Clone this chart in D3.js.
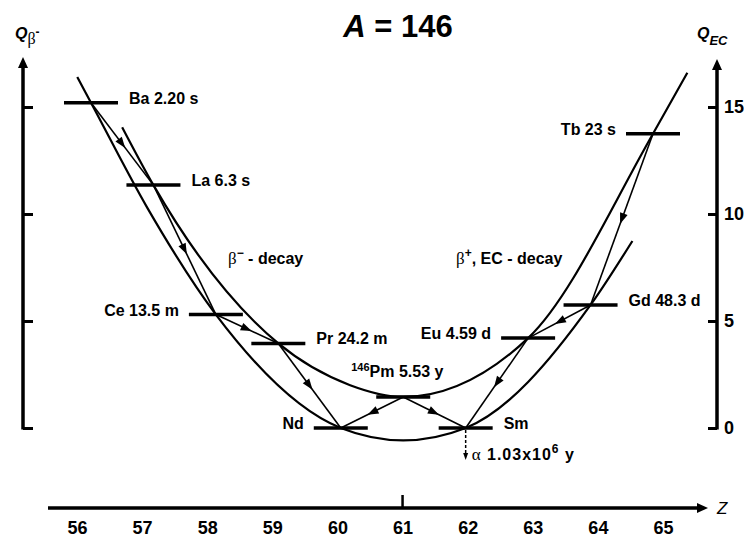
<!DOCTYPE html>
<html>
<head>
<meta charset="utf-8">
<script src="https://cdn.jsdelivr.net/npm/d3@7"></script>
<style>
    body { margin: 0; background: #fff; }
    svg text { font-family: 'Liberation Sans', Arial, sans-serif; font-weight: bold; fill: #000; }
    svg .greek { font-family: 'Liberation Serif', 'Times New Roman', serif; font-weight: normal; }
</style>
</head>
<body>
<div id="chart"></div>
<script>
/* * * * * * * * * * * * * *
 *   A = 146 mass parabola  *
 * * * * * * * * * * * * * */

// isobar levels
const nuclides = ['Ba', 'La', 'Ce', 'Pr', 'Nd', 'Pm', 'Sm', 'Eu', 'Gd', 'Tb'];
const levelZ = [56, 57, 58, 59, 60, 61, 62, 63, 64, 65];
const levelQ = [15.2, 11.35, 5.3, 3.95, 0, 1.45, 0, 4.2, 5.75, 13.75];
const halfLives = ['2.20 s', '6.3 s', '13.5 m', '24.2 m', '', '5.53 y', '', '4.59 d', '48.3 d', '23 s'];

// the two parabolas (even-even lower, odd-odd upper)
const evenZ = [55.78, 56, 56.9, 58, 60, 61, 62, 64, 64.67];
const evenQ = [16.4, 15.2, 10.3, 5.3, 0, -0.58, 0, 5.75, 8.74];
const oddZ = [56.5, 57, 59, 60.15, 61, 63, 65, 65.55];
const oddQ = [14.05, 11.35, 3.95, 2.0, 1.45, 4.2, 13.75, 16.6];

// decay chain
const decayFrom = ['Ba', 'La', 'Ce', 'Pr', 'Pm', 'Pm', 'Tb', 'Gd', 'Eu'];
const decayTo = ['La', 'Ce', 'Pr', 'Nd', 'Nd', 'Sm', 'Gd', 'Eu', 'Sm'];

// axes
const zTicks = [56, 57, 58, 59, 60, 61, 62, 63, 64, 65];
const qTicks = [0, 5, 10, 15];

class ParabolaVis {
    constructor(parentElement) {
        this.parentElement = parentElement;
        this.initVis();
    }

    initVis() {
        let vis = this;

        vis.width = 744;
        vis.height = 538;

        vis.svg = d3
            .select('#' + vis.parentElement)
            .append('svg')
            .attr('width', vis.width)
            .attr('height', vis.height);

        // level positions and axis label positions do not line up exactly in the original
        vis.x = d3.scaleLinear().domain([56, 65]).range([91, 653]);
        vis.xAxisScale = d3.scaleLinear().domain([56, 65]).range([77, 663]);
        vis.y = d3.scaleLinear().domain([0, 15]).range([428, 107]);

        vis.levels = nuclides.map((n, i) => ({ name: n, z: levelZ[i], q: levelQ[i], t: halfLives[i] }));

        vis.drawAxes();
        vis.drawCurves();
        vis.drawLevels();
        vis.drawDecays();
    }

    arrowHead(g, x, y, angle, len, wid) {
        // triangle with its tip at (x, y), pointing along angle
        let pts = [
            [0, 0],
            [-len, -wid / 2],
            [-len, wid / 2],
        ].map((p) => [
            x + p[0] * Math.cos(angle) - p[1] * Math.sin(angle),
            y + p[0] * Math.sin(angle) + p[1] * Math.cos(angle),
        ]);
        g.append('path').attr('d', 'M' + pts.join('L') + 'Z').attr('fill', '#000');
    }

    drawAxes() {
        let vis = this;
        let g = vis.svg.append('g');

        // title
        let title = g.append('text').attr('x', 398).attr('y', 37).attr('text-anchor', 'middle').style('font-size', '31px');
        title.append('tspan').style('font-style', 'italic').text('A');
        title.append('tspan').text(' = 146');

        // left axis (Q beta-)
        let left = g.append('g').attr('transform', 'translate(23,0)')
            .call(d3.axisRight(vis.y).tickValues(qTicks).tickSize(10).tickSizeOuter(0).tickFormat(''));
        left.select('.domain').remove();
        left.selectAll('.tick line').attr('stroke', '#000').attr('stroke-width', 3);
        g.append('line').attr('x1', 23).attr('x2', 23).attr('y1', vis.y(0) + 1.5).attr('y2', 66)
            .attr('stroke', '#000').attr('stroke-width', 3.5);
        vis.arrowHead(g, 23, 57, -Math.PI / 2, 11, 10);

        let ql = g.append('text').attr('x', 15).attr('y', 39).style('font-size', '16px');
        ql.append('tspan').style('font-style', 'italic').text('Q');
        ql.append('tspan').attr('class', 'greek').attr('dy', 5).style('font-size', '16px').text('β');
        ql.append('tspan').attr('dy', -8).style('font-size', '12px').text('-');

        // right axis (Q EC)
        let right = g.append('g').attr('transform', 'translate(717,0)')
            .call(d3.axisLeft(vis.y).tickValues(qTicks).tickSize(9).tickSizeOuter(0));
        right.select('.domain').remove();
        right.selectAll('.tick line').attr('stroke', '#000').attr('stroke-width', 3);
        right.selectAll('.tick text')
            .attr('x', 7)
            .attr('text-anchor', 'start')
            .style('font-size', '18px')
            .style('font-family', null);
        g.append('line').attr('x1', 717).attr('x2', 717).attr('y1', vis.y(0) + 1.5).attr('y2', 68)
            .attr('stroke', '#000').attr('stroke-width', 3.5);
        vis.arrowHead(g, 717, 59, -Math.PI / 2, 11, 10);

        let qr = g.append('text').attr('x', 697).attr('y', 39).style('font-size', '16px').style('font-style', 'italic');
        qr.append('tspan').text('Q');
        qr.append('tspan').attr('dy', 6).style('font-size', '13px').text('EC');

        // Z axis
        let bottom = g.append('g').attr('transform', 'translate(0,508)')
            .call(d3.axisBottom(vis.xAxisScale).tickValues(zTicks).tickSize(0).tickFormat(d3.format('d')));
        bottom.select('.domain').remove();
        bottom.selectAll('.tick text').attr('y', 13).style('font-size', '18px').style('font-family', null);
        g.append('line').attr('x1', 48).attr('x2', 698).attr('y1', 508).attr('y2', 508)
            .attr('stroke', '#000').attr('stroke-width', 3.5);
        vis.arrowHead(g, 708, 508, 0, 11, 10);
        g.append('line').attr('x1', vis.xAxisScale(61)).attr('x2', vis.xAxisScale(61)).attr('y1', 495).attr('y2', 508)
            .attr('stroke', '#000').attr('stroke-width', 2.5);
        g.append('text').attr('x', 717).attr('y', 514).style('font-size', '17px')
            .style('font-style', 'italic').style('font-weight', 'normal').text('Z');
    }

    drawCurves() {
        let vis = this;

        let line = d3
            .line()
            .x((d) => vis.x(d[0]))
            .y((d) => vis.y(d[1]))
            .curve(d3.curveMonotoneX);

        let curves = [d3.zip(evenZ, evenQ), d3.zip(oddZ, oddQ)];

        vis.svg
            .append('g')
            .selectAll('.parabola')
            .data(curves)
            .enter()
            .append('path')
            .attr('class', 'parabola')
            .attr('d', line)
            .attr('fill', 'none')
            .attr('stroke', '#000')
            .attr('stroke-width', 2.2);

        // decay mode labels
        let bm = vis.svg.append('text').attr('x', 228).attr('y', 264).style('font-size', '16px');
        bm.append('tspan').attr('class', 'greek').style('font-size', '17px').text('β');
        bm.append('tspan').attr('dy', -7).style('font-size', '12px').text('−');
        bm.append('tspan').attr('dy', 7).text(' - decay');

        let bp = vis.svg.append('text').attr('x', 456).attr('y', 264).style('font-size', '16px');
        bp.append('tspan').attr('class', 'greek').style('font-size', '17px').text('β');
        bp.append('tspan').attr('dy', -7).style('font-size', '12px').text('+');
        bp.append('tspan').attr('dy', 7).text(', EC - decay');
    }

    drawLevels() {
        let vis = this;
        let g = vis.svg.append('g');

        g.selectAll('.level')
            .data(vis.levels)
            .enter()
            .append('line')
            .attr('class', 'level')
            .attr('x1', (d) => vis.x(d.z) - 27)
            .attr('x2', (d) => vis.x(d.z) + 27)
            .attr('y1', (d) => vis.y(d.q))
            .attr('y2', (d) => vis.y(d.q))
            .attr('stroke', '#000')
            .attr('stroke-width', 3.5);

        let labels = g
            .selectAll('.levelName')
            .data(vis.levels)
            .enter()
            .append('text')
            .attr('class', 'levelName')
            .style('font-size', '16px')
            .attr('y', (d) => (d.name === 'Pm' ? vis.y(d.q) - 20 : vis.y(d.q) + 1))
            .attr('x', (d) => {
                // labels sit left or right of the bar, Pm above it
                switch (d.name) {
                    case 'Ce':
                    case 'Nd':
                    case 'Eu':
                    case 'Tb':
                        return vis.x(d.z) - 37;
                    case 'Pm':
                        return vis.x(d.z) - 52;
                    default:
                        return vis.x(d.z) + 38;
                }
            })
            .attr('text-anchor', (d) => (['Ce', 'Nd', 'Eu', 'Tb'].includes(d.name) ? 'end' : 'start'));

        labels
            .filter((d) => d.name === 'Pm')
            .append('tspan')
            .attr('dy', -6)
            .style('font-size', '11px')
            .text('146');
        labels
            .append('tspan')
            .attr('dy', (d) => (d.name === 'Pm' ? 6 : 0))
            .text((d) => (d.t ? d.name + ' ' + d.t : d.name));

        // alpha branch of 146Sm
        let sx = vis.x(62);
        let sy = vis.y(0);
        g.append('line').attr('x1', sx).attr('x2', sx).attr('y1', sy + 2).attr('y2', sy + 25)
            .attr('stroke', '#000').attr('stroke-width', 1.5).attr('stroke-dasharray', '3,2');
        vis.arrowHead(g, sx, sy + 32, Math.PI / 2, 7, 5);
        let al = g.append('text').attr('x', sx + 6).attr('y', sy + 32).style('font-size', '16px')
            .style('letter-spacing', '1px');
        al.append('tspan').attr('class', 'greek').style('font-size', '17px').text('α');
        al.append('tspan').text(' 1.03x10');
        al.append('tspan').attr('dy', -7).style('font-size', '12px').text('6');
        al.append('tspan').attr('dy', 7).text(' y');
    }

    drawDecays() {
        let vis = this;
        let g = vis.svg.append('g');
        let byName = {};
        vis.levels.forEach((d) => (byName[d.name] = d));

        decayFrom.forEach((f, i) => {
            let a = byName[f];
            let b = byName[decayTo[i]];
            let x0 = vis.x(a.z), y0 = vis.y(a.q);
            let x1 = vis.x(b.z), y1 = vis.y(b.q);

            g.append('line').attr('x1', x0).attr('y1', y0).attr('x2', x1).attr('y2', y1)
                .attr('stroke', '#000').attr('stroke-width', 1.6);

            let angle = Math.atan2(y1 - y0, x1 - x0);
            let mx = x0 + (x1 - x0) * 0.5 + 5 * Math.cos(angle);
            let my = y0 + (y1 - y0) * 0.5 + 5 * Math.sin(angle);
            vis.arrowHead(g, mx, my, angle, 11, 8);
        });
    }
}

new ParabolaVis('chart');
</script>
</body>
</html>
